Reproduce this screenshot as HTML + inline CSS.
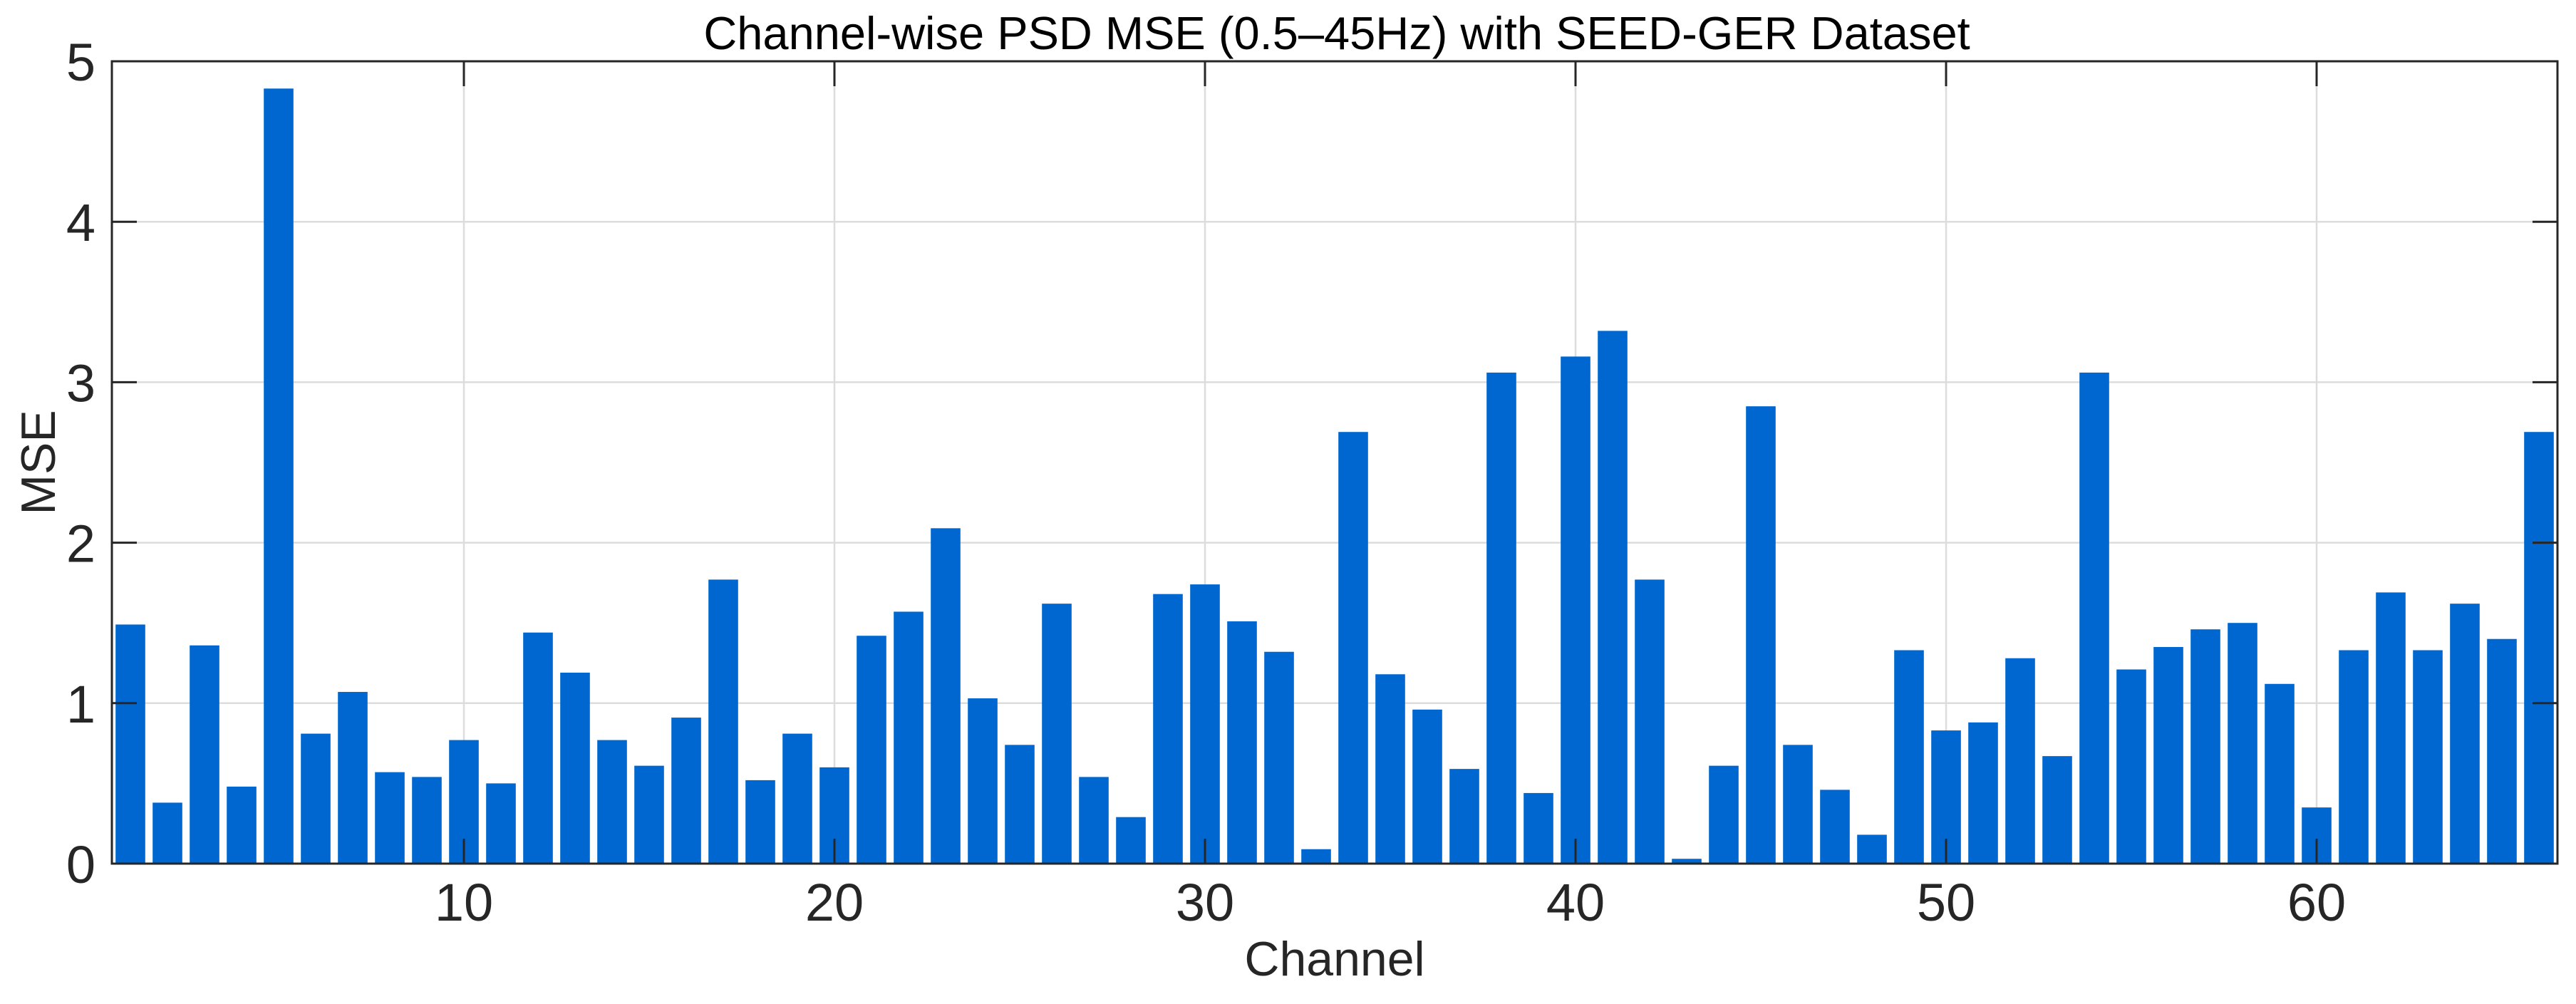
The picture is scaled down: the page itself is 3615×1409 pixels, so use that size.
<!DOCTYPE html>
<html><head><meta charset="utf-8"><style>
html,body{margin:0;padding:0;background:#fff;}
svg text{font-family:"Liberation Sans",Arial,sans-serif;fill:#262626;}
</style></head><body>
<svg id="chart" width="3615" height="1404" xmlns="http://www.w3.org/2000/svg">
<rect x="0" y="0" width="3615" height="1404" fill="#fff"/>
<g id="grid"></g>
<g id="bars"></g>
<g id="axes"></g>
<text x="1876" y="69" font-size="65" text-anchor="middle" style="fill:#000">Channel-wise PSD MSE (0.5–45Hz) with SEED-GER Dataset</text>
<text x="1873" y="1369" font-size="68" text-anchor="middle">Channel</text>
<text x="0" y="0" font-size="68" text-anchor="middle" transform="translate(77,649) rotate(-90)">MSE</text>
</svg>
<script>
const channels = Array.from({length:66},(_,i)=>i+1);
const mseValues = [1.49,0.38,1.36,0.48,4.83,0.81,1.07,0.57,0.54,0.77,0.50,1.44,1.19,0.77,0.61,0.91,1.77,0.52,0.81,0.60,1.42,1.57,2.09,1.03,0.74,1.62,0.54,0.29,1.68,1.74,1.51,1.32,0.09,2.69,1.18,0.96,0.59,3.06,0.44,3.16,3.32,1.77,0.03,0.61,2.85,0.74,0.46,0.18,1.33,0.83,0.88,1.28,0.67,3.06,1.21,1.35,1.46,1.50,1.12,0.35,1.33,1.69,1.33,1.62,1.40,2.69];
const xTicks = [10,20,30,40,50,60];
const yTicks = [0,1,2,3,4,5];

const L=157,R=3589,T=86,B=1212;
const xMin=0.5,xMax=66.5,yMin=0,yMax=5;
const xs=v=>L+(v-xMin)/(xMax-xMin)*(R-L);
const ys=v=>B-(v-yMin)/(yMax-yMin)*(B-T);
const NS='http://www.w3.org/2000/svg';
function mk(tag,attrs,parent){const e=document.createElementNS(NS,tag);for(const k in attrs)e.setAttribute(k,attrs[k]);parent.appendChild(e);return e;}
const grid=document.getElementById('grid'),bars=document.getElementById('bars'),axes=document.getElementById('axes');
xTicks.forEach(t=>{const l=mk('line',{x1:xs(t),x2:xs(t),y1:T,y2:B,stroke:'#dcdcdc','stroke-width':2.5},grid);

});
yTicks.forEach(t=>{const l=mk('line',{x1:L,x2:R,y1:ys(t),y2:ys(t),stroke:'#dcdcdc','stroke-width':2.5},grid);

});
const bw=0.8*(R-L)/(xMax-xMin);
channels.forEach((c,i)=>{const v=mseValues[i];const r=mk('rect',{x:xs(c)-bw/2,y:ys(v),width:bw,height:ys(0)-ys(v),fill:'#0066d0'},bars);

});
const box=mk('rect',{x:L,y:T,width:R-L,height:B-T,fill:'none',stroke:'#262626','stroke-width':3},axes);


const tl=35;
xTicks.forEach(t=>{
mk('line',{x1:xs(t),x2:xs(t),y1:B,y2:B-tl,stroke:'#262626','stroke-width':3},axes);
mk('line',{x1:xs(t),x2:xs(t),y1:T,y2:T+tl,stroke:'#262626','stroke-width':3},axes);
const tx=mk('text',{x:xs(t),y:1292,'font-size':74,'text-anchor':'middle'},axes);tx.textContent=t;

});
yTicks.forEach(t=>{
mk('line',{x1:L,x2:L+tl,y1:ys(t),y2:ys(t),stroke:'#262626','stroke-width':3},axes);
mk('line',{x1:R,x2:R-tl,y1:ys(t),y2:ys(t),stroke:'#262626','stroke-width':3},axes);
const tx=mk('text',{x:134,y:ys(t)+27,'font-size':74,'text-anchor':'end'},axes);tx.textContent=t;

});
</script>
</body></html>
